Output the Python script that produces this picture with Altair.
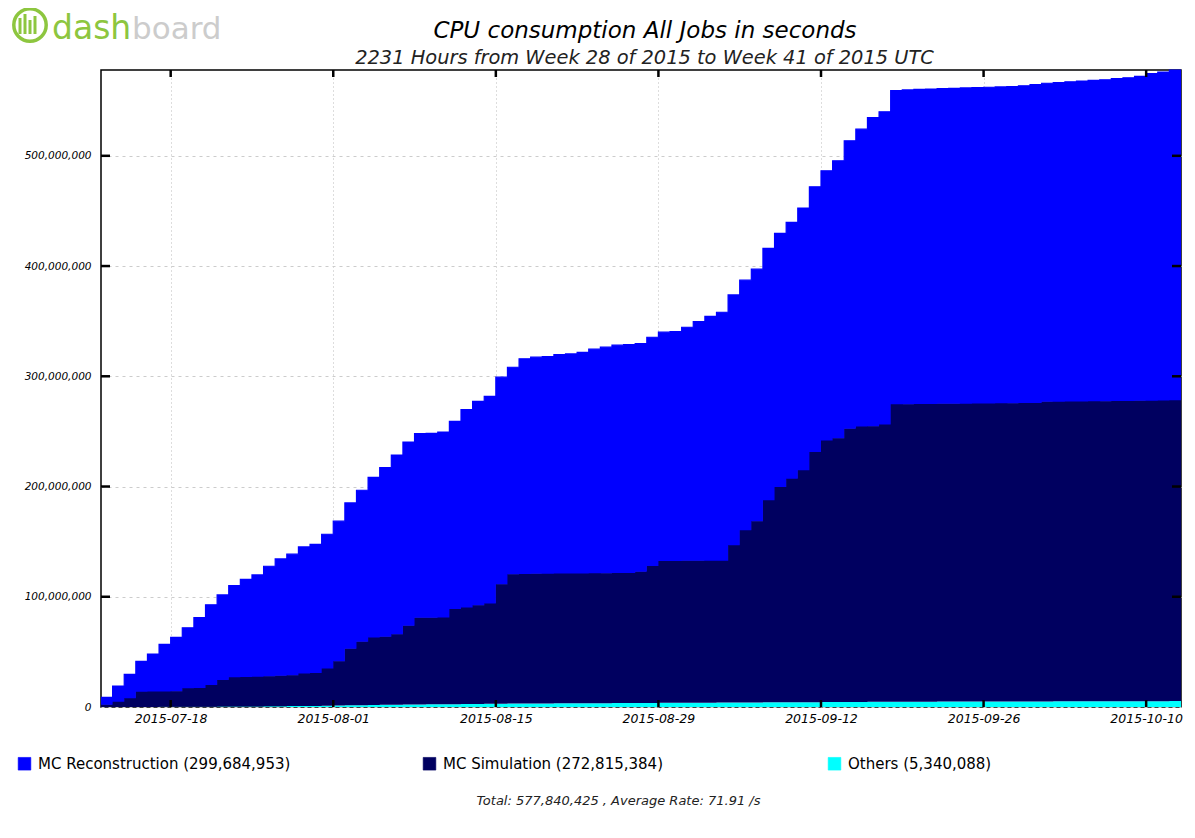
import altair as alt
import pandas as pd

# ---------------- data (cumulative, in millions of CPU seconds) ----------------
start_date = "2015-07-12"
n_days = 93

# top of the stack (all jobs)
total_cum_m = [
    8.8, 19.0, 29.6, 41.4, 48.0, 56.8, 63.1, 71.8, 81.2, 92.7,
    101.7, 110.2, 115.7, 119.8, 127.7, 134.3, 138.6, 145.2, 147.6, 156.7,
    168.6, 185.1, 196.6, 208.3, 217.1, 228.5, 240.3, 247.9, 248.2, 249.4,
    259.1, 269.7, 277.2, 281.7, 299.2, 308.2, 315.8, 317.3, 317.9, 319.7,
    320.3, 321.6, 324.6, 326.4, 328.2, 328.8, 329.7, 335.4, 340.0, 340.6,
    344.5, 349.6, 354.4, 358.1, 373.8, 387.2, 397.2, 416.0, 429.6, 439.6,
    452.6, 471.9, 486.4, 495.5, 513.6, 524.2, 534.7, 539.9, 559.2, 559.8,
    560.2, 560.5, 560.9, 561.2, 561.6, 561.9, 562.2, 562.5, 562.8, 563.5,
    564.5, 565.8, 566.5, 567.2, 567.8, 568.5, 569.0, 570.0, 570.8, 572.0,
    574.5, 576.0, 577.84,
]

# top of MC Simulation (Simulation + Others)
sim_top_cum_m = [
    2.0, 4.8, 7.9, 13.9, 14.0, 14.1, 14.3, 16.9, 17.2, 19.9,
    24.5, 26.9, 27.2, 27.5, 28.0, 28.3, 28.8, 30.5, 30.8, 35.0,
    41.5, 52.8, 59.2, 63.1, 63.7, 66.1, 73.7, 80.9, 80.9, 81.2,
    88.8, 90.3, 92.4, 93.9, 111.4, 120.5, 120.7, 120.8, 120.9, 121.0,
    121.1, 121.2, 121.3, 121.4, 121.5, 121.6, 122.6, 128.0, 132.5, 132.5,
    132.6, 132.6, 132.7, 132.7, 146.7, 160.3, 168.5, 187.5, 199.5, 207.1,
    214.7, 231.3, 241.8, 243.9, 252.4, 254.5, 254.7, 256.3, 274.6, 274.7,
    274.8, 274.9, 275.0, 275.1, 275.2, 275.3, 275.4, 275.5, 275.6, 275.7,
    275.8, 276.9, 277.0, 277.1, 277.2, 277.3, 277.4, 277.5, 277.6, 277.8,
    277.9, 278.0, 278.16,
]

# top of Others
others_cum_m = [
    0.0, 0.0, 0.05, 0.1, 0.1, 0.15, 0.2, 0.2, 0.25, 0.3,
    0.35, 0.4, 0.45, 0.5, 0.6, 0.7, 0.8, 0.9, 1.0, 1.1,
    1.3, 1.5, 1.7, 1.9, 2.0, 2.1, 2.2, 2.3, 2.4, 2.5,
    2.6, 2.7, 2.8, 2.9, 3.0, 3.1, 3.15, 3.2, 3.25, 3.3,
    3.35, 3.4, 3.45, 3.5, 3.55, 3.6, 3.65, 3.7, 3.75, 3.8,
    3.85, 3.9, 3.95, 4.0, 4.05, 4.1, 4.15, 4.2, 4.25, 4.3,
    4.35, 4.4, 4.45, 4.5, 4.55, 4.6, 4.65, 4.7, 4.75, 4.8,
    4.83, 4.86, 4.89, 4.92, 4.95, 4.98, 5.0, 5.02, 5.04, 5.06,
    5.08, 5.1, 5.12, 5.14, 5.16, 5.18, 5.2, 5.22, 5.24, 5.26,
    5.28, 5.31, 5.34,
]

series_names = [
    "MC Reconstruction (299,684,953)",
    "MC Simulation (272,815,384)",
    "Others (5,340,088)",
]
series_colors = ["#0000ff", "#000060", "#00ffff"]

x_tick_dates = [(2015, 7, 18), (2015, 8, 1), (2015, 8, 15), (2015, 8, 29),
                (2015, 9, 12), (2015, 9, 26), (2015, 10, 10)]
y_tick_values = [0, 100e6, 200e6, 300e6, 400e6, 500e6]
y_max = 577840425

title_text = "CPU consumption All Jobs in seconds"
subtitle_text = "2231 Hours from Week 28 of 2015 to Week 41 of 2015 UTC"
footer_text = "Total: 577,840,425 , Average Rate: 71.91 /s"

# ---------------- build tables ----------------
W, H = 1080, 637
PAD_L, PAD_T = 93, 62
dates = pd.date_range(start_date, periods=n_days + 1, freq="D")
date_str = [d.strftime("%Y-%m-%dT%H:%M:%SZ") for d in dates]


def ext(a):
    return list(a) + [a[-1]]


def frame(lo, hi, name):
    return pd.DataFrame({
        "date": date_str,
        "lo": [v * 1e6 for v in ext(lo)],
        "hi": [v * 1e6 for v in ext(hi)],
        "series": name,
    })


zeros = [0.0] * n_days
df_reco = frame(sim_top_cum_m, total_cum_m, series_names[0])
df_sim = frame(others_cum_m, sim_top_cum_m, series_names[1])
df_oth = frame(zeros, others_cum_m, series_names[2])


def dt(t):
    return alt.DateTime(year=t[0], month=t[1], date=t[2], utc=True)


x_enc = alt.X(
    "date:T",
    scale=alt.Scale(type="utc", domain=[dt((2015, 7, 12)), dt((2015, 10, 13))], nice=False),
    axis=alt.Axis(values=[dt(t) for t in x_tick_dates], format="%Y-%m-%d", title=None,
                  grid=True, gridDash=[1, 3], gridColor="#bbbbbb", ticks=False, domain=False,
                  labelFontStyle="italic", labelFontSize=12.5, labelPadding=5, labelColor="black"),
)
y_enc = alt.Y(
    "hi:Q",
    scale=alt.Scale(domain=[0, y_max], nice=False, zero=True),
    axis=alt.Axis(values=y_tick_values, format=",d", title=None, grid=True,
                  gridDash=[3, 4], gridColor="#cccccc", ticks=False, domain=False,
                  labelFontStyle="italic", labelFontSize=10.5, labelPadding=10, labelColor="black"),
)
color_enc = alt.Color(
    "series:N",
    scale=alt.Scale(domain=series_names, range=series_colors),
    legend=alt.Legend(orient="none", legendX=-84, legendY=686, direction="horizontal",
                      columns=3, gridAlign="all", columnPadding=130, title=None,
                      symbolType="square", symbolSize=160, symbolOpacity=1,
                      symbolStrokeColor="#222222", symbolStrokeWidth=0.6,
                      labelFontSize=15, labelFont="DejaVu Sans", labelLimit=500,
                      labelOffset=6, labelColor="black"),
)


def area_layer(df, with_line):
    kw = dict(interpolate="step-after", opacity=1)
    if with_line:
        kw["line"] = {"color": "#111111", "strokeWidth": 1.2}
    return alt.Chart(df).mark_area(**kw).encode(
        x=x_enc, y=y_enc, y2=alt.Y2("lo:Q"), color=color_enc
    )


reco = area_layer(df_reco, True)
sim = area_layer(df_sim, True)
oth = area_layer(df_oth, False)

# inward tick marks on all four sides
xt = pd.DataFrame({"date": [f"{t[0]}-{t[1]:02d}-{t[2]:02d}T00:00:00Z" for t in x_tick_dates]})
yt = pd.DataFrame({"hi": y_tick_values[1:]})
tick_bottom = alt.Chart(xt).mark_rule(color="black", strokeWidth=2.5).encode(
    x=x_enc, y=alt.value(H), y2=alt.value(H - 7))
tick_top = alt.Chart(xt).mark_rule(color="black", strokeWidth=2.5).encode(
    x=x_enc, y=alt.value(0), y2=alt.value(7))
tick_left = alt.Chart(yt).mark_rule(color="black", strokeWidth=2.5).encode(
    y=y_enc, x=alt.value(0), x2=alt.value(9))
tick_right = alt.Chart(yt).mark_rule(color="black", strokeWidth=2.5).encode(
    y=y_enc, x=alt.value(W), x2=alt.value(W - 9))

# page position -> plot position helpers (origin at page (8 + PAD_L, 8 + PAD_T))
OX, OY = 8 + PAD_L, 8 + PAD_T

one = pd.DataFrame({"k": [0]})
footer = alt.Chart(one).mark_text(
    text=footer_text, fontSize=13, fontStyle="italic", color="#222222", align="center"
).encode(x=alt.value(618.5 - OX), y=alt.value(801 - OY))

# titles (drawn as text so the logo does not push them away)
title_mark = alt.Chart(one).mark_text(
    text=title_text, fontSize=23, fontStyle="italic", font="DejaVu Sans", color="black",
    align="center", baseline="alphabetic"
).encode(x=alt.value(645 - OX), y=alt.value(38 - OY))
subtitle_mark = alt.Chart(one).mark_text(
    text=subtitle_text, fontSize=19.4, fontStyle="italic", font="DejaVu Sans", color="#222222",
    align="center", baseline="alphabetic"
).encode(x=alt.value(644.5 - OX), y=alt.value(64 - OY))

# dashboard logo
logo_ring = alt.Chart(one).mark_point(
    shape="circle", filled=False, size=1050, strokeWidth=3.5, color="#8dc63f", opacity=1
).encode(x=alt.value(30 - OX), y=alt.value(25 - OY))
logo_dash = alt.Chart(one).mark_text(
    text="dash", fontSize=33, font="DejaVu Sans", color="#8dc63f", align="left", baseline="alphabetic"
).encode(x=alt.value(52 - OX), y=alt.value(39 - OY))
logo_board = alt.Chart(one).mark_text(
    text="board", fontSize=31, font="DejaVu Sans", color="#cccccc", align="left", baseline="alphabetic"
).encode(x=alt.value(132 - OX), y=alt.value(39 - OY))
bars = pd.DataFrame({"bx": [20 - OX, 25 - OX, 30 - OX, 35 - OX],
                     "btop": [18 - OY, 14 - OY, 20 - OY, 16 - OY]})
logo_bars = alt.Chart(bars).mark_rule(color="#8dc63f", strokeWidth=3).encode(
    x=alt.X("bx:Q", scale=None), y=alt.Y("btop:Q", scale=None), y2=alt.value(34 - OY))

chart = alt.layer(
    oth, sim, reco, tick_bottom, tick_top, tick_left, tick_right, footer,
    title_mark, subtitle_mark, logo_ring, logo_bars, logo_dash, logo_board,
).properties(
    width=W,
    height=H,
    autosize=alt.AutoSizeParams(type="none"),
    padding={"left": PAD_L, "top": PAD_T, "right": 6, "bottom": 115},
).configure(
    font="DejaVu Sans",
).configure_view(
    stroke="black", strokeWidth=1.5,
).resolve_scale(x="shared", y="shared")

chart.save("out.html", embed_options={"renderer": "svg", "actions": False})
